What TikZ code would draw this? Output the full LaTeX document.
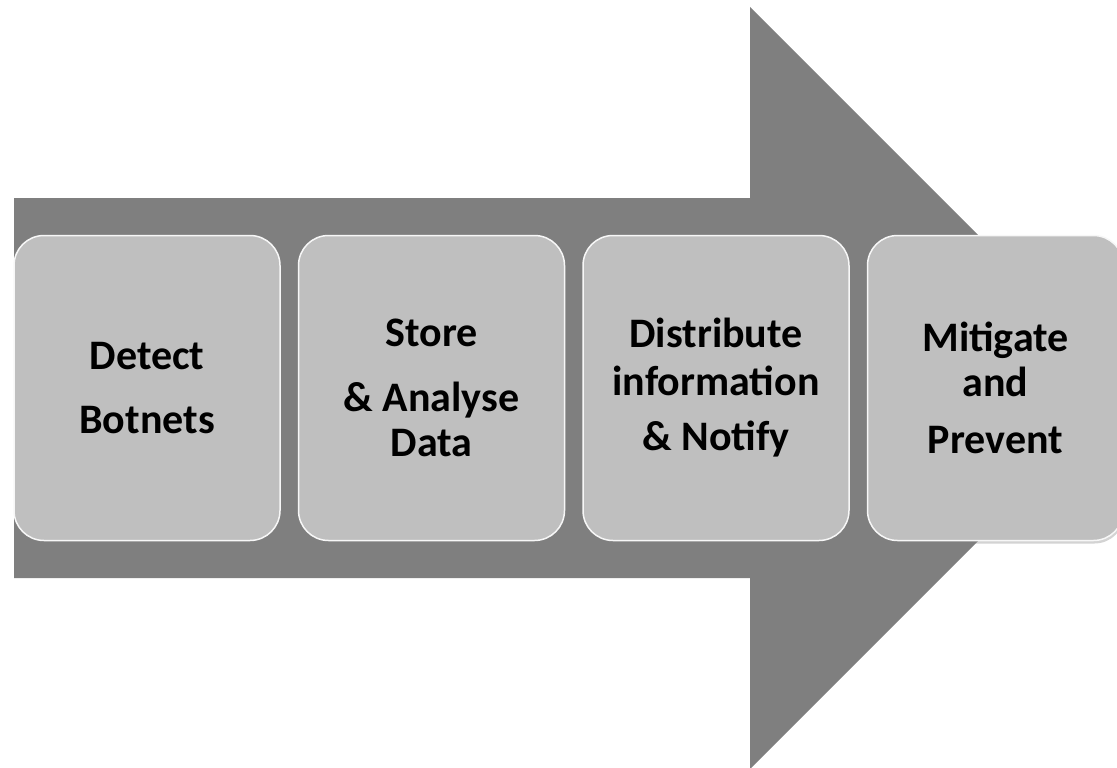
\documentclass[tikz,border=0pt]{standalone}
\usepackage{fontspec}
\setmainfont{Carlito}
\usetikzlibrary{positioning,shadows}
\definecolor{arrowgray}{RGB}{127,127,127}
\definecolor{boxgray}{RGB}{191,191,191}

\begin{document}
\begin{tikzpicture}[
        x=1pt, y=-1pt,
        stage/.style={draw=white!88!boxgray, line width=1.5pt, fill=boxgray,
            rounded corners=30pt, minimum width=266pt, minimum height=305pt,
            align=center, inner sep=0pt,
            font=\fontsize{42}{48}\selectfont\bfseries,
            drop shadow={shadow xshift=1pt, shadow yshift=-3pt, opacity=.35}},
        node distance=17pt,
    ]
    \useasboundingbox (0,0) rectangle (1117,768);
    \clip (0,0) rectangle (1117,768);
    \fill[arrowgray] (14,198) -- (750,198) -- (750,7) -- (1131,388)
        -- (750,769) -- (750,578) -- (14,578) -- cycle;
    \node[stage](detect) at (147,388){Detect\\[16pt]Botnets};
    \node[stage, right=of detect](store){Store\\[17pt]\& Analyse\\[-3pt]Data};
    \node[stage, right=of store](distribute){Distribute\\information\\[7pt]\& Notify};
    \node[stage, right=of distribute, minimum width=256pt](mitigate){Mitigate\\[-3pt]and\\[9pt]Prevent};

\end{tikzpicture}
\end{document}
